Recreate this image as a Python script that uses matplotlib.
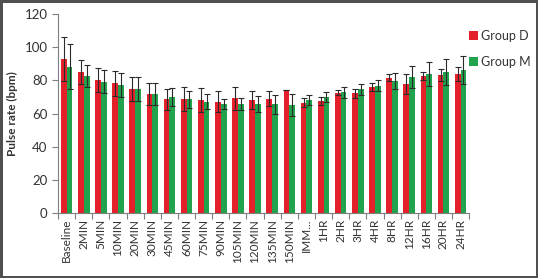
import numpy as np
import matplotlib
matplotlib.use('Agg')
from matplotlib import pyplot as plt

plt.rcParams['font.family'] = ['Lato', 'DejaVu Sans']

categories = ['Baseline', '2MIN', '5MIN', '10MIN', '20MIN', '30MIN', '45MIN', '60MIN',
              '75MIN', '90MIN', '105MIN', '120MIN', '135MIN', '150MIN', 'IMM...',
              '1HR', '2HR', '3HR', '4HR', '8HR', '12HR', '16HR', '20HR', '24HR']
group_d = [92.9, 84.9, 80.2, 78.3, 74.6, 71.8, 68.6, 68.8, 68.2, 67.2, 69.2, 68.2,
           69.0, 74.1, 66.6, 67.6, 72.6, 72.2, 76.2, 81.6, 77.7, 82.7, 83.3, 83.9]
group_d_sd = [13.1, 7.4, 7.5, 7.6, 7.3, 6.8, 6.2, 7.4, 7.2, 6.2, 7.0, 5.6,
              4.6, 0.0, 2.6, 2.6, 1.6, 2.6, 2.4, 2.2, 6.0, 2.2, 3.4, 4.4]
group_m = [88.3, 82.7, 79.2, 77.2, 74.6, 71.8, 69.8, 68.6, 67.2, 65.8, 65.8, 65.8,
           65.6, 65.2, 68.2, 70.2, 72.8, 74.6, 76.8, 79.8, 81.9, 83.9, 84.9, 86.3]
group_m_sd = [13.5, 6.6, 7.1, 7.5, 7.3, 6.8, 5.4, 5.2, 4.4, 3.2, 3.4, 5.0,
              5.6, 6.8, 3.0, 3.0, 3.4, 3.2, 3.4, 4.8, 6.8, 7.4, 7.8, 8.4]

red = '#E4202A'
green = '#21A24C'
grey = '#7F7F7F'
txt = '#333333'

fig = plt.figure(figsize=(5.38, 2.78), dpi=100, edgecolor='#505050', linewidth=2.5)
ax = fig.add_axes([0.108, 0.233, 0.764, 0.717])

x = np.arange(len(categories))
w = 0.335
ax.bar(x - w/2, group_d, w, color=red, label='Group D')
ax.bar(x + w/2, group_m, w, color=green, label='Group M')
ax.errorbar(x - w/2, group_d, yerr=group_d_sd, fmt='none', ecolor='#2b2b2b',
            elinewidth=0.8, capsize=2.2, capthick=0.8)
ax.errorbar(x + w/2, group_m, yerr=group_m_sd, fmt='none', ecolor='#2b2b2b',
            elinewidth=0.8, capsize=2.2, capthick=0.8)

ax.set_xlim(-0.5, len(categories) - 0.5)
ax.set_ylim(0, 120)
ax.set_yticks(range(0, 121, 20))
ax.set_xticks(x)
ax.set_xticklabels(categories, rotation=90, fontsize=8.5, color=txt)
ax.set_xticks(np.arange(-0.5, len(categories)), minor=True)
ax.tick_params(axis='x', which='major', length=0, pad=4)
ax.tick_params(axis='x', which='minor', length=4, color=grey, width=0.8)
ax.tick_params(axis='y', length=4, color=grey, width=0.8, labelsize=9.5, labelcolor=txt)

for s in ['top', 'right']:
    ax.spines[s].set_visible(False)
for s in ['left', 'bottom']:
    ax.spines[s].set_color(grey)
    ax.spines[s].set_linewidth(0.8)

ax.set_ylabel('Pulse rate (bpm)', fontsize=8.5, fontweight='bold', color=txt, labelpad=5)

fig.legend(loc='upper left', bbox_to_anchor=(0.862, 0.91), frameon=False,
           fontsize=9, handlelength=0.7, handleheight=0.7, handletextpad=0.3,
           labelspacing=1.1, borderaxespad=0, labelcolor=txt)

fig.savefig('out.png', dpi=100, edgecolor=fig.get_edgecolor())
